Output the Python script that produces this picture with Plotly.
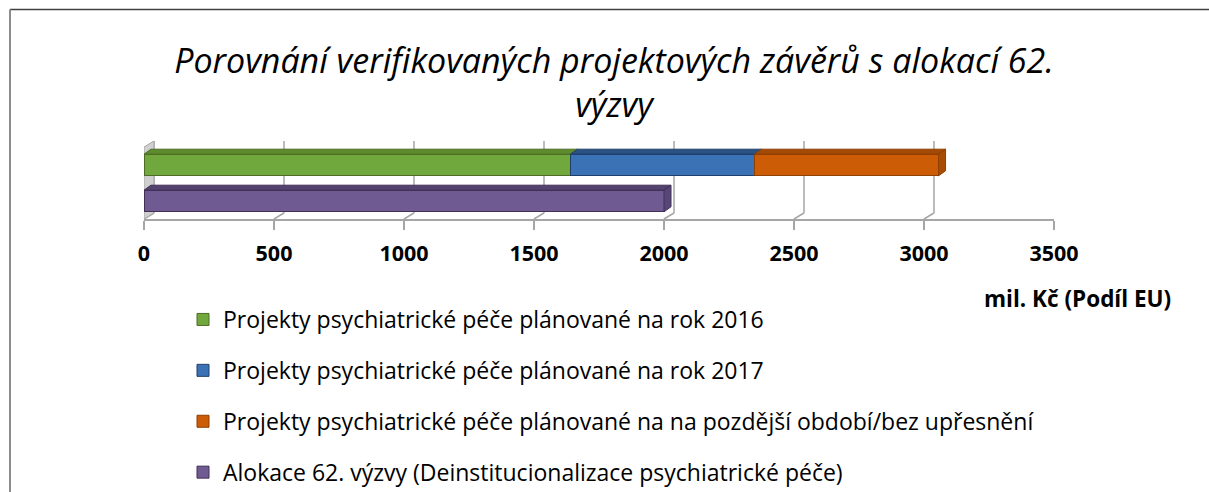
import plotly.graph_objects as go

# ---------------- data ----------------
categories = ["Alokace 62. výzvy", "Projekty"]          # bottom row, top row
series_names = [
    "Projekty psychiatrické péče plánované na rok 2016",
    "Projekty psychiatrické péče plánované na rok 2017",
    "Projekty psychiatrické péče plánované na na pozdější období/bez upřesnění",
    "Alokace 62. výzvy (Deinstitucionalizace psychiatrické péče)",
]
proj_2016 = [None, 1640]
proj_2017 = [None, 708]
proj_later = [None, 708]
alokace = [2000, None]
tick_vals = [0, 500, 1000, 1500, 2000, 2500, 3000, 3500]
title_text = "Porovnání verifikovaných projektových závěrů s alokací 62.<br>výzvy"
axis_title = "mil. Kč (Podíl EU)"

# ---------------- style ----------------
W, H = 1209, 492
FONT = "Open Sans"
face_colors = ["#71a83d", "#3b72b6", "#cc5c06", "#705a92"]
line_colors = ["#4f6b25", "#1f3f6b", "#8f3f00", "#413055"]
top_colors = ["#5d8c2e", "#2a5283", "#a34a07", "#54426f"]
side_colors = [None, None, "#a84b05", "#58457a"]
grid_col = "#a6a6a6"

def px_x(p):
    return p / W

def px_y(p):
    return 1 - p / H

x_dom = [px_x(144), px_x(1054)]
y_dom = [px_y(219), px_y(147)]
units_per_px = 3500 / (1054 - 144)
bargap = 0.4
half_h = 36 * (1 - bargap) / 2
dx = 7 * units_per_px
dy = 5

series_vals = [proj_2016, proj_2017, proj_later, alokace]

fig = go.Figure()
for i, (name, vals) in enumerate(zip(series_names, series_vals)):
    fig.add_trace(go.Bar(
        y=categories, x=vals, name=name, orientation="h",
        marker=dict(color=face_colors[i], line=dict(color=line_colors[i], width=1)),
        legendgroup=f"g{i}",
        hoverinfo="x+name",
    ))

shapes = []
# back gridlines and floor diagonals
for t in tick_vals:
    shapes.append(dict(type="line", xref="x", xsizemode="pixel", xanchor=t, x0=10, x1=10,
                       yref="paper", y0=px_y(213), y1=px_y(141),
                       line=dict(color=grid_col, width=1.5), layer="below"))
    shapes.append(dict(type="line", xref="x", xsizemode="pixel", xanchor=t, x0=0, x1=10,
                       yref="paper", ysizemode="pixel", yanchor=px_y(219), y0=0, y1=6,
                       line=dict(color=grid_col, width=1.5), layer="below"))
# left wall
shapes.append(dict(type="path", xref="x", xsizemode="pixel", xanchor=0,
                   yref="paper", ysizemode="pixel", yanchor=px_y(219),
                   path="M0,0 L0,72 L10,78 L10,6 Z",
                   fillcolor="#d0d0d0", line=dict(color=grid_col, width=1), layer="below"))

# 3D top faces and end faces of bars
cum = {0: 0.0, 1: 0.0}
for i, vals in enumerate(series_vals):
    for row, v in enumerate(vals):
        if v is None:
            continue
        x0 = cum[row]
        x1 = x0 + v
        cum[row] = x1
        shapes.append(dict(type="path", xref="x", yref="y", ysizemode="pixel", yanchor=row,
                           path=f"M{x0},{half_h} L{x1},{half_h} L{x1+dx},{half_h+dy} L{x0+dx},{half_h+dy} Z",
                           fillcolor=top_colors[i], line=dict(color=line_colors[i], width=1)))
        if side_colors[i]:
            shapes.append(dict(type="path", xref="x", yref="y", ysizemode="pixel", yanchor=row,
                               path=f"M{x1},{half_h} L{x1+dx},{half_h+dy} L{x1+dx},{-half_h+dy} L{x1},{-half_h} Z",
                               fillcolor=side_colors[i], line=dict(color=line_colors[i], width=1)))

# frame
shapes.append(dict(type="line", xref="paper", yref="paper", x0=px_x(10), x1=1.0,
                   y0=px_y(9.5), y1=px_y(9.5), line=dict(color="#404040", width=1.5)))
shapes.append(dict(type="line", xref="paper", yref="paper", x0=px_x(10), x1=px_x(10),
                   y0=0, y1=px_y(9.5), line=dict(color="#8c8c8c", width=2)))

fig.update_layout(
    width=W, height=H,
    margin=dict(l=0, r=0, t=0, b=0, autoexpand=False),
    paper_bgcolor="white", plot_bgcolor="rgba(0,0,0,0)",
    barmode="stack", bargap=bargap,
    font=dict(family=FONT, color="black"),
    title=dict(text=title_text, x=px_x(614), xanchor="center", xref="paper",
               y=px_y(73), yanchor="top", yref="container",
               font=dict(family=FONT, size=34, style="italic", color="black")),
    xaxis=dict(domain=x_dom, range=[0, 3500], tickvals=tick_vals, showgrid=False,
               zeroline=False, showline=True, linecolor=grid_col, linewidth=1.5,
               ticks="outside", ticklen=9, tickcolor=grid_col, tickwidth=1.5,
               ticklabelstandoff=5, automargin=False,
               tickfont=dict(family=FONT, size=21.5, weight="bold", color="black"),
               fixedrange=True),
    yaxis=dict(domain=y_dom, range=[-0.5, 1.5], type="category",
               categoryorder="array", categoryarray=categories, automargin=False,
               showticklabels=False, showgrid=False, zeroline=False, showline=False,
               ticks="", fixedrange=True),
    legend=dict(x=px_x(183), xanchor="left", y=px_y(298), yanchor="top",
                traceorder="grouped", tracegroupgap=18,
                font=dict(family=FONT, size=23, color="black"),
                bgcolor="rgba(0,0,0,0)"),
    shapes=shapes,
    annotations=[dict(text=f"<b>{axis_title}</b>", xref="paper", yref="paper",
                      x=px_x(1173), xanchor="right", y=px_y(298), yanchor="middle",
                      showarrow=False, font=dict(family=FONT, size=22.5, color="black"))],
)

fig.write_html("out.html", config={"displayModeBar": False},
               post_script="document.body.style.margin='0';")
